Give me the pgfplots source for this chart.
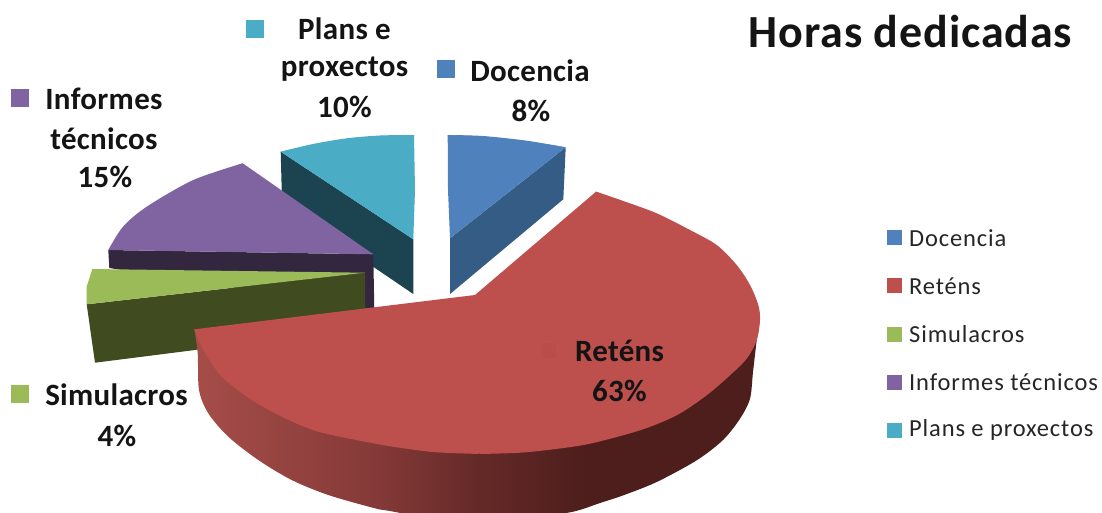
\documentclass[border=0pt]{standalone}
\usepackage{pgfplots}
\pgfplotsset{compat=1.18}
\usepackage{fontspec}
\setmainfont{Carlito}
\definecolor{cBlue}{HTML}{4F81BD}\definecolor{cBlueD}{HTML}{355C85}
\definecolor{cRed}{HTML}{BD4F4C}
\definecolor{cGreen}{HTML}{9BBB59}\definecolor{cGreenD}{HTML}{404B20}
\definecolor{cPurple}{HTML}{8064A2}\definecolor{cPurpleD}{HTML}{33263F}
\definecolor{cTeal}{HTML}{4BACC6}\definecolor{cTealD}{HTML}{1C4450}
\definecolor{rA}{HTML}{A64D49}\definecolor{rB}{HTML}{853A38}\definecolor{rC}{HTML}{652A28}\definecolor{rD}{HTML}{4D1E1C}
\pgfdeclarehorizontalshading{redside}{100bp}{
 color(0bp)=(rA);
 color(25bp)=(rA);
 color(41bp)=(rB);
 color(50bp)=(rC);
 color(60bp)=(rD);
 color(75bp)=(rD);
 color(100bp)=(rD)}
\newcommand{\lab}[4]{\node[font=\fontsize{#3}{#3}\selectfont\addfontfeature{LetterSpace=1}\bfseries,text=black!92,inner sep=0pt,anchor=center] at (axis cs:#1,#2) {#4};}
\newcommand{\leg}[2]{\node[font=\fontsize{24.5}{24.5}\selectfont\addfontfeature{LetterSpace=3.5},text=black!85,inner sep=0pt,anchor=west] at (axis cs:909,#1) {#2};}
\begin{document}
\begin{tikzpicture}
\begin{axis}[hide axis,scale only axis,width=1102pt,height=512pt,
  xmin=0,xmax=1102,ymin=0,ymax=512,y dir=reverse,clip=true]
\addplot[draw=none,fill=white] coordinates {(0,0)(1102,0)(1102,512)(0,512)} --cycle;
% Plans e proxectos
\addplot[draw=none,fill=cTealD] coordinates {(280.7,151.7)(413.3,239.3)(413.3,294)(375,268)(300,215)(281.7,190)} --cycle;
\addplot[draw=none,fill=cTeal,smooth] coordinates {(280.7,151.7)(313,144)(346.7,138.3)(380,135.5)(414,135)};
\addplot[draw=none,fill=cTeal] coordinates {(280.7,151.7)(313,144.5)(346.7,139)(380,136)(414,135)(415,190)(413.3,239.3)} --cycle;
% Docencia
\addplot[draw=none,fill=cBlueD] coordinates {(565.7,147.3)(563.3,199.3)(450,294)(450,238.3)} --cycle;
\addplot[draw=none,fill=cBlue,smooth] coordinates {(447.7,135)(483,136)(526.7,140.7)(565.7,147.3)};
\addplot[draw=none,fill=cBlue] coordinates {(447.7,135)(483,136.5)(526.7,141.2)(565.7,147.3)(450,238.3)(448,190)} --cycle;
% Informes
\addplot[draw=none,fill=cPurpleD] coordinates {(108.3,250)(373.3,254.3)(374.3,310)(109.3,268)} --cycle;
\addplot[draw=none,fill=cPurple,smooth] coordinates {(242.7,163.3)(193.3,180)(146.7,206.7)(123,226.7)(108.3,250)};
\addplot[draw=none,fill=cPurple] coordinates {(242.7,163.3)(193.8,181)(147.5,207.5)(124,227.5)(108.3,250)(373.3,254.3)} --cycle;
% Simulacros
\addplot[draw=none,fill=cGreenD] coordinates {(86.7,304.3)(365,272.7)(365,320)(195,350)(95,362.7)} --cycle;
\addplot[draw=none,fill=cGreen] coordinates {(92.3,269)(365,272.7)(86.7,304.3)(86.7,286.7)} --cycle;
% Retens
\addplot[draw=none,shading=redside,smooth] coordinates {(194.3,329)(197.7,353.3)(199,390)(208.3,413.3)(228.3,436.7)(258.3,460)(291.7,480)(328.3,495)(375,508.3)(390,511)(440,520)(480,522)(530,518)(573,511.7)(600,503)(623.3,495.3)(656.7,482)(696.7,460.3)(723,440)(740,418.7)(750,398.7)(753,372)(756.7,340)};
\addplot[draw=none,fill=cRed,smooth] coordinates {(596,191.7)(623.3,201)(656.7,213.3)(690,230)(716.7,245)(736.7,265)(750,285)(758.3,305)(760,320)(756.7,340.3)(746.7,358.7)(730,375.3)(706.7,395.3)(676.7,415.3)(640,430.3)(590,443.7)(553.3,449.3)(520,452.7)(480,454)};
\addplot[draw=none,fill=cRed,smooth] coordinates {(480,454)(436.7,452.3)(403.3,448.3)(370,442.7)(318.3,431.7)(285,418.3)(251.7,400)(221.7,376.7)(203.3,350)(194.3,329.3)};
\addplot[draw=none,fill=cRed] coordinates {(475,295)(596,191.7)(656,214)(715,246)(749,285.5)(759,320)(745,358.5)(705,395)(640,429.5)(553,448.5)(480,453.5)(403.5,447.5)(318.5,431)(252,399.5)(222,376)(194.3,329.3)} --cycle;
\addplot[draw=none,fill=cRed!98!black] coordinates {(542,343)(556,343)(556,358)(542,358)} --cycle;
% data label keys
\addplot[draw=none,fill=cBlue] coordinates {(437,60)(455,60)(455,78)(437,78)} --cycle;
\addplot[draw=none,fill=cTeal] coordinates {(246,20)(264,20)(264,38)(246,38)} --cycle;
\addplot[draw=none,fill=cPurple] coordinates {(11,89)(29,89)(29,107)(11,107)} --cycle;
\addplot[draw=none,fill=cGreen] coordinates {(11,385)(29,385)(29,403)(11,403)} --cycle;
% legend keys
\addplot[draw=none,fill=cBlue] coordinates {(887,230)(902,230)(902,245)(887,245)} --cycle;
\addplot[draw=none,fill=cRed] coordinates {(887,278)(902,278)(902,293)(887,293)} --cycle;
\addplot[draw=none,fill=cGreen] coordinates {(887,327)(902,327)(902,342)(887,342)} --cycle;
\addplot[draw=none,fill=cPurple] coordinates {(887,375)(902,375)(902,390)(887,390)} --cycle;
\addplot[draw=none,fill=cTeal] coordinates {(887,423)(902,423)(902,438)(887,438)} --cycle;
\node[font=\fontsize{46}{46}\selectfont\addfontfeature{LetterSpace=1.9}\bfseries,text=black!92,inner sep=0pt,anchor=center] at (axis cs:910.5,32) {Horas dedicadas};
\lab{530}{71}{31}{Docencia}
\lab{531}{111}{31}{8\%}
\lab{344.5}{29}{31}{Plans e}
\lab{344.5}{69}{31}{proxectos}
\lab{344.5}{107}{31}{10\%}
\lab{104}{99}{31}{Informes}
\lab{104}{139}{31}{técnicos}
\lab{105}{177}{31}{15\%}
\lab{116.5}{395}{31}{Simulacros}
\lab{117}{436}{31}{4\%}
\lab{619.5}{351}{31}{Reténs}
\lab{619.5}{391}{31}{63\%}
\leg{238}{Docencia}
\leg{286}{Reténs}
\leg{334}{Simulacros}
\leg{382}{Informes técnicos}
\leg{430}{Plans e proxectos}
\end{axis}
\end{tikzpicture}
\end{document}
